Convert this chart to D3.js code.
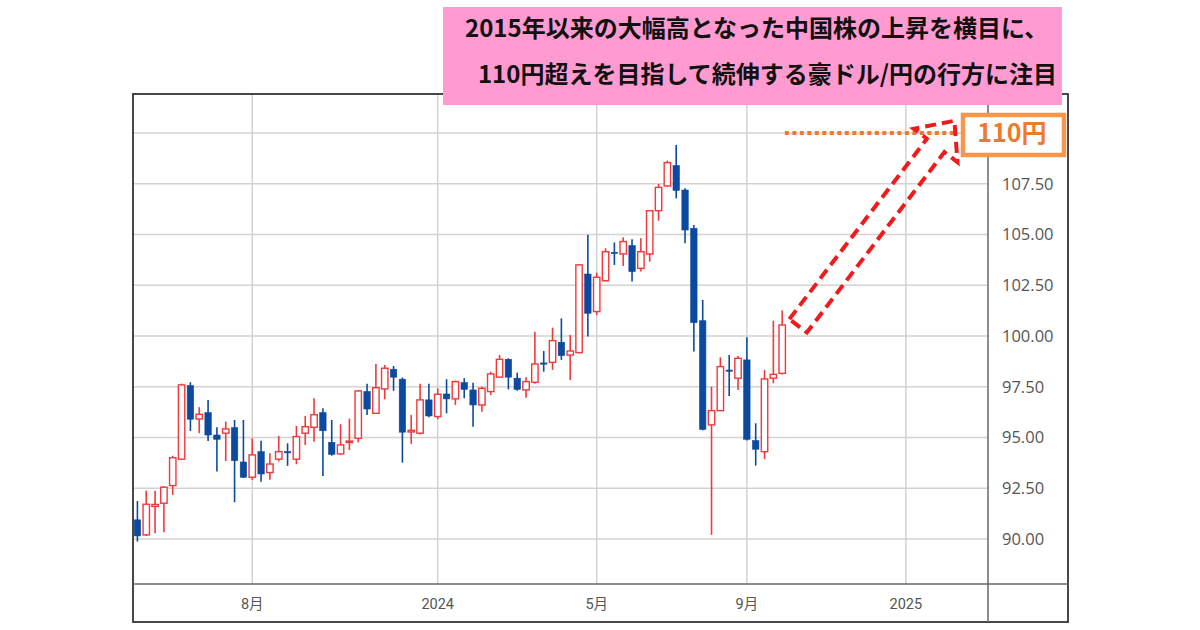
<!DOCTYPE html>
<html>
<head>
<meta charset="utf-8">
<script src="https://cdn.jsdelivr.net/npm/d3@7"></script>
<style>
  html, body { margin: 0; padding: 0; background: #fff; }
  svg { display: block; }
</style>
</head>
<body>
<div id="chart"></div>
<script>
// AUD/JPY weekly candles: [open, high, low, close]
var opens  = [90.94, 90.20, 91.60, 91.76, 92.63, 93.93, 97.55, 95.91, 96.22, 95.12,
              95.21, 95.48, 93.79, 93.04, 94.30, 93.27, 93.93, 94.30, 93.93, 95.21,
              95.50, 96.22, 94.76, 94.19, 94.75, 94.96, 97.26, 96.19, 97.39, 98.36,
              97.87, 95.27, 95.21, 96.85, 96.03, 97.14, 96.90, 97.70, 97.34, 96.60,
              97.26, 97.97, 98.85, 97.92, 97.34, 97.72, 98.67, 98.70, 99.69, 99.06,
              99.18, 103.05, 101.20, 102.72, 104.12, 104.04, 104.45, 103.33, 104.04, 106.17,
              107.39, 108.39, 107.19, 105.30, 100.75, 95.62, 96.32, 98.32, 97.92, 98.82,
              94.84, 94.30, 97.92, 98.16];
var highs  = [91.87, 92.38, 92.38, 92.60, 94.10, 97.65, 97.72, 96.49, 96.85, 95.50,
              95.78, 95.86, 95.86, 94.96, 94.84, 94.22, 95.07, 94.71, 95.57, 96.06,
              96.93, 96.44, 95.86, 95.65, 95.93, 97.34, 97.64, 98.62, 98.57, 98.52,
              97.95, 96.11, 97.64, 97.64, 97.42, 97.87, 97.80, 97.92, 97.70, 97.50,
              98.24, 99.06, 98.90, 98.19, 97.97, 100.21, 99.26, 100.41, 100.87, 100.05,
              103.55, 104.98, 103.12, 104.32, 104.61, 104.86, 104.76, 104.81, 106.20, 107.49,
              108.64, 109.41, 107.28, 105.47, 101.77, 97.50, 98.95, 99.06, 99.01, 99.94,
              95.70, 98.33, 100.75, 101.25];
var lows   = [89.87, 90.15, 90.28, 90.33, 92.17, 93.90, 95.32, 95.21, 94.83, 93.32,
              93.84, 91.81, 93.00, 92.91, 92.82, 92.91, 93.81, 93.60, 93.68, 94.63,
              94.79, 93.10, 94.10, 94.15, 94.38, 94.76, 96.11, 96.15, 96.88, 97.30,
              93.76, 94.68, 95.15, 96.00, 95.90, 96.19, 96.60, 96.93, 95.53, 96.27,
              97.09, 97.95, 97.37, 97.30, 96.96, 97.64, 98.24, 98.33, 98.82, 97.83,
              99.15, 99.97, 101.03, 102.68, 103.50, 103.45, 102.68, 103.17, 103.66, 105.68,
              107.35, 106.78, 104.57, 99.23, 95.35, 90.20, 96.30, 97.04, 97.34, 94.85,
              93.61, 93.93, 97.67, 98.10];
var closes = [90.15, 91.71, 91.70, 92.55, 94.00, 97.59, 95.90, 96.14, 95.12, 94.91,
              95.42, 93.86, 93.04, 94.14, 93.20, 93.69, 94.30, 94.25, 95.04, 95.53,
              96.12, 95.33, 94.17, 94.63, 94.82, 97.29, 96.40, 97.45, 98.41, 97.97,
              95.26, 95.35, 96.85, 96.06, 97.13, 96.90, 97.75, 97.37, 96.60, 97.42,
              98.13, 98.85, 97.97, 97.37, 97.75, 98.62, 98.62, 99.77, 99.03, 99.26,
              103.50, 101.12, 102.89, 104.15, 104.07, 104.65, 103.17, 104.15, 106.17, 107.32,
              108.54, 107.17, 105.22, 100.66, 95.40, 96.32, 98.49, 98.27, 98.90, 94.91,
              94.42, 97.88, 98.11, 100.54];

// x axis: week index of each label
var tickIdx    = [13, 34, 52, 69, 87];
var tickLabels = ["8月", "2024", "5月", "9月", "2025"];
var yGrid      = [90, 92.5, 95, 97.5, 100, 102.5, 105, 107.5, 110];
var yLabels    = [90, 92.5, 95, 97.5, 100, 102.5, 105, 107.5];

var titleLines = ["2015年以来の大幅高となった中国株の上昇を横目に、",
                  "110円超えを目指して続伸する豪ドル/円の行方に注目"];
var targetLevel = 110;
var targetLabel = "110円";

var width = 1200, height = 630,
    frame = { left: 133, top: 94, right: 1068, bottom: 622 },
    plot  = { left: 133, top: 94, right: 988, bottom: 584 };

var blue = "#0b4a9e", red = "#f0393b", grid = "#d3d3d3";

var candles = opens.map(function(o, i) {
  return { i: i, o: o, h: highs[i], l: lows[i], c: closes[i] };
});

var x = d3.scaleLinear().domain([-0.5, 96.3]).range([plot.left, plot.right]);
var y = d3.scaleLinear().domain([87.78, 111.92]).range([plot.bottom, plot.top]);

var svg = d3.select("#chart").append("svg")
    .attr("width", width)
    .attr("height", height);

// grid
svg.append("g").selectAll("line")
    .data(yGrid)
  .join("line")
    .attr("x1", plot.left).attr("x2", plot.right)
    .attr("y1", d => y(d)).attr("y2", d => y(d))
    .attr("stroke", grid).attr("stroke-width", 1.5);

svg.append("g").selectAll("line")
    .data(tickIdx)
  .join("line")
    .attr("x1", d => x(d)).attr("x2", d => x(d))
    .attr("y1", plot.top).attr("y2", plot.bottom)
    .attr("stroke", grid).attr("stroke-width", 1.5);

// axis labels
svg.append("g").selectAll("text")
    .data(yLabels)
  .join("text")
    .attr("x", plot.right + 14)
    .attr("y", d => y(d))
    .attr("dy", "0.36em")
    .attr("font-family", "'Open Sans', sans-serif")
    .attr("font-size", "16.5px")
    .attr("fill", "#555")
    .text(d => d3.format(".2f")(d));

svg.append("g").selectAll("text")
    .data(tickIdx)
  .join("text")
    .attr("x", d => x(d))
    .attr("y", 609)
    .attr("text-anchor", "middle")
    .attr("font-family", "Roboto, 'Noto Sans CJK JP', sans-serif")
    .attr("font-size", "14.5px")
    .attr("fill", "#555")
    .text((d, i) => tickLabels[i]);

// candles
var bw = 6.4;
var candle = svg.append("g").selectAll("g")
    .data(candles)
  .join("g");

candle.append("line")
    .attr("x1", d => x(d.i)).attr("x2", d => x(d.i))
    .attr("y1", d => y(d.h)).attr("y2", d => y(d.l))
    .attr("stroke", d => d.c >= d.o ? red : blue)
    .attr("stroke-width", 1.6);

candle.append("rect")
    .attr("x", d => x(d.i) - bw / 2)
    .attr("y", d => y(Math.max(d.o, d.c)))
    .attr("width", bw)
    .attr("height", d => Math.max(1.2, Math.abs(y(d.o) - y(d.c))))
    .attr("fill", d => d.c >= d.o ? "#fff" : blue)
    .attr("stroke", d => d.c >= d.o ? red : blue)
    .attr("stroke-width", d => d.c >= d.o ? 1.4 : 0.6);

// frame
svg.append("rect")
    .attr("x", frame.left).attr("y", frame.top)
    .attr("width", frame.right - frame.left)
    .attr("height", frame.bottom - frame.top)
    .attr("fill", "none").attr("stroke", "#333").attr("stroke-width", 1.8);
svg.append("line")
    .attr("x1", plot.left).attr("x2", frame.right)
    .attr("y1", plot.bottom).attr("y2", plot.bottom)
    .attr("stroke", "#666").attr("stroke-width", 1.5);
svg.append("line")
    .attr("x1", plot.right).attr("x2", plot.right)
    .attr("y1", plot.top).attr("y2", frame.bottom)
    .attr("stroke", "#666").attr("stroke-width", 1.5);

// 110 target: dotted level line
var orange = "#ee7a2c";
svg.append("line")
    .attr("x1", x(73.3)).attr("x2", x(92.5))
    .attr("y1", y(targetLevel)).attr("y2", y(targetLevel))
    .attr("stroke", orange).attr("stroke-width", 4)
    .attr("stroke-dasharray", "4,3.5");

// hollow dashed arrow from last candle towards the target
var tail = [x(74.8), y(100.5)], tip = [x(92.5), y(110.6)];
var dx = tip[0] - tail[0], dy = tip[1] - tail[1], len = Math.hypot(dx, dy);
var ux = dx / len, uy = dy / len, nx = -uy, ny = ux;
var sw = 11, hw = 27.5, hl = 31;
var bx = tip[0] - ux * hl, by = tip[1] - uy * hl;
var arrowPts = [
  [tail[0] - nx * sw, tail[1] - ny * sw],
  [bx - nx * sw, by - ny * sw],
  [bx - nx * hw, by - ny * hw],
  tip,
  [bx + nx * hw, by + ny * hw],
  [bx + nx * sw, by + ny * sw],
  [tail[0] + nx * sw, tail[1] + ny * sw]
];
svg.append("polygon")
    .attr("points", arrowPts.map(p => p.join(",")).join(" "))
    .attr("fill", "none")
    .attr("stroke", "#f01a1a")
    .attr("stroke-width", 4)
    .attr("stroke-dasharray", "11,6")
    .attr("stroke-linejoin", "miter");

// 110円 label box
svg.append("rect")
    .attr("x", plot.right - 25).attr("y", y(targetLevel) - 18)
    .attr("width", 101).attr("height", 40)
    .attr("fill", "#fff")
    .attr("stroke", "#f5964a").attr("stroke-width", 4.5);
svg.append("text")
    .attr("x", plot.right + 24).attr("y", y(targetLevel) + 9)
    .attr("text-anchor", "middle")
    .attr("font-family", "'Noto Sans CJK JP', sans-serif")
    .attr("font-weight", "bold")
    .attr("font-size", "25px")
    .attr("fill", orange)
    .text(targetLabel);

// headline box
svg.append("rect")
    .attr("x", 443).attr("y", 7)
    .attr("width", 619).attr("height", 98)
    .attr("fill", "#ff9bd0");
svg.append("text")
    .attr("x", 465).attr("y", 37)
    .attr("font-family", "'Noto Sans CJK JP', sans-serif")
    .attr("font-weight", "bold")
    .attr("font-size", "24px")
    .attr("fill", "#111")
    .text(titleLines[0]);
svg.append("text")
    .attr("x", 1057).attr("y", 83)
    .attr("text-anchor", "end")
    .attr("font-family", "'Noto Sans CJK JP', sans-serif")
    .attr("font-weight", "bold")
    .attr("font-size", "24px")
    .attr("fill", "#111")
    .text(titleLines[1]);
</script>
</body>
</html>
